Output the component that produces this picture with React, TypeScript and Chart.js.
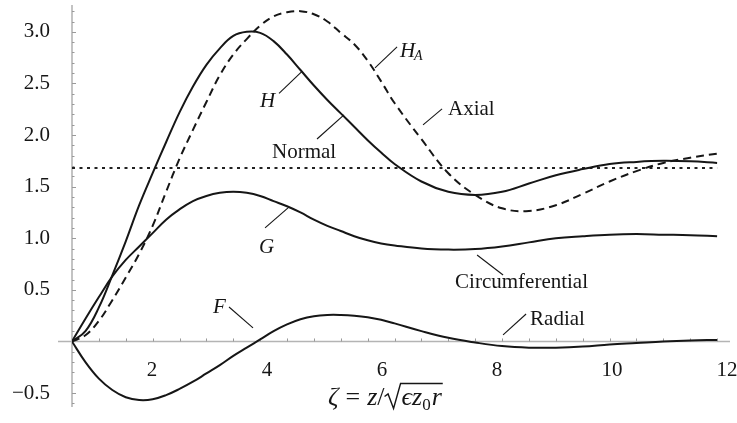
import React, { useEffect, useRef } from "react";
import { Chart, registerables } from "chart.js";

Chart.register(...registerables);

// ---- data ----
const ZETA = [0, 0.25, 0.5, 0.75, 1, 1.25, 1.5, 1.75, 2, 2.25, 2.5, 2.75, 3, 3.25, 3.5, 3.75, 4, 4.25, 4.5, 4.75, 5, 5.25, 5.5, 5.75, 6, 6.5, 7, 7.5, 8, 8.5, 9, 9.5, 10, 10.5, 11, 11.5, 12];
const H_NORMAL = [0, 0.1, 0.33, 0.64, 0.97, 1.32, 1.63, 1.93, 2.22, 2.47, 2.68, 2.84, 2.96, 3.0, 2.99, 2.91, 2.78, 2.63, 2.48, 2.34, 2.21, 2.08, 1.95, 1.83, 1.72, 1.55, 1.45, 1.42, 1.45, 1.53, 1.61, 1.67, 1.72, 1.74, 1.75, 1.745, 1.73];
const H_AXIAL = [0, 0.06, 0.2, 0.4, 0.62, 0.85, 1.12, 1.45, 1.77, 2.05, 2.32, 2.58, 2.78, 2.93, 3.06, 3.15, 3.19, 3.2, 3.17, 3.1, 2.99, 2.88, 2.72, 2.52, 2.31, 1.96, 1.63, 1.42, 1.29, 1.265, 1.32, 1.43, 1.55, 1.65, 1.73, 1.78, 1.82];
const G_CIRC = [0, 0.22, 0.43, 0.63, 0.79, 0.92, 1.05, 1.18, 1.28, 1.36, 1.41, 1.44, 1.45, 1.44, 1.41, 1.36, 1.31, 1.25, 1.18, 1.12, 1.07, 1.02, 0.98, 0.95, 0.93, 0.9, 0.89, 0.895, 0.92, 0.96, 1.0, 1.02, 1.035, 1.04, 1.035, 1.03, 1.02];
const F_RADIAL = [0, -0.2, -0.36, -0.47, -0.54, -0.567, -0.56, -0.52, -0.46, -0.39, -0.31, -0.23, -0.14, -0.06, 0.02, 0.1, 0.165, 0.215, 0.245, 0.257, 0.257, 0.25, 0.235, 0.21, 0.175, 0.1, 0.035, -0.01, -0.045, -0.06, -0.06, -0.05, -0.03, -0.015, 0.0, 0.01, 0.015];
const LEVEL_VALUE = 1.68;
const LEVEL_RANGE = [0, 12];
const X_TICK_LABELS = [2, 4, 6, 8, 10, 12];
const Y_TICK_LABELS = [-0.5, 0.5, 1.0, 1.5, 2.0, 2.5, 3.0];

// ---- axis ranges ----
const X_MIN = 0;
const X_MAX = 12.24;
const XL_MIN = 0.61;
const XL_MAX = 12.05;
const Y_MIN = -0.635;
const Y_MAX = 3.26;
const X_MINOR_STEP = 0.5;
const Y_MINOR_STEP = 0.1;

// ---- callouts (data coordinates) ----
type Callout = { label: string; sub?: string; italic: boolean; text: [number, number]; line: [number, number, number, number] };
const CALLOUTS: Callout[] = [
  { label: "H", sub: "A", italic: true, text: [6.1, 2.757], line: [5.637, 2.65, 6.047, 2.854] },
  { label: "Axial", italic: false, text: [6.995, 2.195], line: [6.53, 2.098, 6.884, 2.253] },
  { label: "H", italic: true, text: [3.498, 2.272], line: [3.851, 2.403, 4.279, 2.616] },
  { label: "Normal", italic: false, text: [3.721, 1.778], line: [4.558, 1.962, 5.06, 2.195] },
  { label: "G", italic: true, text: [3.479, 0.858], line: [3.591, 1.1, 4.019, 1.294] },
  { label: "Circumferential", italic: false, text: [7.126, 0.518], line: [7.535, 0.838, 8.019, 0.644] },
  { label: "Radial", italic: false, text: [8.521, 0.16], line: [8.019, 0.063, 8.447, 0.266] },
  { label: "F", italic: true, text: [2.623, 0.276], line: [2.921, 0.334, 3.367, 0.131] },
];

const SERIF = "'Liberation Serif', 'DejaVu Serif', serif";
const INK = "#161616";
const AXIS = "#b4b4b4";

const toPoints = (ys: number[]) => ZETA.map((x, i) => ({ x, y: ys[i] }));

const axesPlugin = {
  id: "mathAxes",
  beforeDatasetsDraw(chart: any) {
    const { ctx, chartArea, scales } = chart;
    const xs = scales.x;
    const ys = scales.y;
    const x0 = xs.getPixelForValue(0);
    const y0 = ys.getPixelForValue(0);
    ctx.save();
    ctx.strokeStyle = AXIS;
    ctx.lineWidth = 1.6;
    ctx.beginPath();
    ctx.moveTo(x0, chartArea.top);
    ctx.lineTo(x0, chartArea.bottom);
    ctx.stroke();
    ctx.beginPath();
    ctx.moveTo(x0 - 14, y0);
    ctx.lineTo(chartArea.right, y0);
    ctx.stroke();
    ctx.lineWidth = 1;
    ctx.strokeStyle = "#9a9a9a";
    ctx.beginPath();
    for (let k = 1; k * X_MINOR_STEP <= X_MAX; k++) {
      const px = Math.round(xs.getPixelForValue(k * X_MINOR_STEP)) + 0.5;
      ctx.moveTo(px, y0);
      ctx.lineTo(px, y0 - 3);
    }
    for (let k = Math.ceil(Y_MIN / Y_MINOR_STEP); k * Y_MINOR_STEP <= Y_MAX; k++) {
      if (k === 0) continue;
      const py = Math.round(ys.getPixelForValue(k * Y_MINOR_STEP)) + 0.5;
      const len = k % 5 === 0 ? 4 : 2.5;
      ctx.moveTo(x0, py);
      ctx.lineTo(x0 + len, py);
    }
    ctx.stroke();
    ctx.restore();
  },
};

const calloutPlugin = {
  id: "callouts",
  afterDatasetsDraw(chart: any) {
    const { ctx, scales } = chart;
    const xs = scales.x;
    const ys = scales.y;
    ctx.save();
    ctx.strokeStyle = INK;
    ctx.fillStyle = INK;
    ctx.lineWidth = 1.1;
    ctx.textAlign = "left";
    ctx.textBaseline = "alphabetic";
    for (const c of CALLOUTS) {
      ctx.beginPath();
      ctx.moveTo(xs.getPixelForValue(c.line[0]), ys.getPixelForValue(c.line[1]));
      ctx.lineTo(xs.getPixelForValue(c.line[2]), ys.getPixelForValue(c.line[3]));
      ctx.stroke();
      const tx = xs.getPixelForValue(c.text[0]);
      const ty = ys.getPixelForValue(c.text[1]);
      ctx.font = `${c.italic ? "italic " : ""}21px ${SERIF}`;
      ctx.fillText(c.label, tx, ty);
      if (c.sub) {
        const w = ctx.measureText(c.label).width;
        ctx.font = `italic 14px ${SERIF}`;
        ctx.fillText(c.sub, tx + w - 1, ty + 3);
      }
    }
    ctx.restore();
  },
};

const titlePlugin = {
  id: "zetaTitle",
  afterDraw(chart: any) {
    const { ctx, scales } = chart;
    const cx = scales.xLab.getPixelForValue(6.05);
    const base = scales.y.getPixelForValue(0) + 64;
    const size = 26;
    const it = `italic ${size}px ${SERIF}`;
    const rm = `${size}px ${SERIF}`;
    const sb = `17px ${SERIF}`;
    type Part = { t?: string; f?: string; dy?: number; sqrt?: boolean; gap?: number };
    const parts: Part[] = [
      { t: "\u03B6", f: it },
      { gap: 7 },
      { t: "=", f: rm },
      { gap: 7 },
      { t: "z", f: it },
      { t: "/", f: rm },
      { sqrt: true, gap: 17 },
      { t: "\u03F5", f: it },
      { t: "z", f: it },
      { t: "0", f: sb, dy: 5 },
      { gap: 1 },
      { t: "r", f: it },
    ];
    ctx.save();
    let total = 0;
    const widths = parts.map((p) => {
      if (p.t) {
        ctx.font = p.f;
        return ctx.measureText(p.t).width;
      }
      return p.gap || 0;
    });
    widths.forEach((w) => (total += w));
    let x = cx - total / 2;
    ctx.fillStyle = INK;
    ctx.strokeStyle = INK;
    ctx.textBaseline = "alphabetic";
    ctx.textAlign = "left";
    let sqrtX = 0;
    parts.forEach((p, i) => {
      if (p.sqrt) sqrtX = x;
      if (p.t) {
        ctx.font = p.f;
        ctx.fillText(p.t, x, base + (p.dy || 0));
      }
      x += widths[i];
    });
    ctx.lineWidth = 1.4;
    ctx.beginPath();
    ctx.moveTo(sqrtX, base - 9);
    ctx.lineTo(sqrtX + 3.5, base - 11.5);
    ctx.lineTo(sqrtX + 9, base + 3);
    ctx.lineTo(sqrtX + 16, base - 22);
    ctx.lineTo(x + 1, base - 22);
    ctx.stroke();
    ctx.restore();
  },
};

export default function App() {
  const ref = useRef<HTMLCanvasElement | null>(null);

  useEffect(() => {
    if (!ref.current) return;
    const line = (data: any, extra: any = {}) => ({
      data,
      xAxisID: "x",
      yAxisID: "y",
      borderColor: INK,
      borderWidth: 2,
      pointRadius: 0,
      fill: false,
      tension: 0.4,
      ...extra,
    });
    const chart = new Chart(ref.current, {
      type: "line",
      data: {
        datasets: [
          line(toPoints(H_NORMAL), { label: "Normal (H)" }),
          line(toPoints(H_AXIAL), { label: "Axial (H_A)", borderDash: [8, 5] }),
          line(toPoints(G_CIRC), { label: "Circumferential (G)" }),
          line(toPoints(F_RADIAL), { label: "Radial (F)" }),
          line(LEVEL_RANGE.map((x) => ({ x, y: LEVEL_VALUE })), { label: "level", borderDash: [3, 4.5], borderWidth: 2, borderColor: "#222", tension: 0 }),
        ],
      },
      options: {
        animation: false,
        responsive: false,
        events: [],
        layout: { padding: { left: 0, right: 7, top: 5, bottom: 16 } },
        plugins: { legend: { display: false }, tooltip: { enabled: false }, title: { display: false } },
        scales: {
          x: { type: "linear", display: false, min: X_MIN, max: X_MAX },
          xLab: {
            type: "linear",
            position: { y: 0 },
            min: XL_MIN,
            max: XL_MAX,
            afterBuildTicks: (s: any) => {
              s.ticks = X_TICK_LABELS.map((v) => ({ value: v }));
            },
            afterFit: (s: any) => {
              s.paddingLeft = 0;
              s.paddingRight = 0;
            },
            grid: { display: false, drawTicks: false },
            border: { display: false },
            ticks: {
              autoSkip: false,
              maxRotation: 0,
              padding: 16,
              color: INK,
              font: { family: SERIF, size: 21 },
              callback: (v: any) => String(v),
            },
          },
          y: {
            type: "linear",
            position: "left",
            min: Y_MIN,
            max: Y_MAX,
            afterBuildTicks: (s: any) => {
              s.ticks = Y_TICK_LABELS.map((v) => ({ value: v }));
            },
            afterFit: (s: any) => {
              s.width = 72;
              s.paddingTop = 0;
              s.paddingBottom = 0;
            },
            grid: { display: false, drawTicks: false },
            border: { display: false },
            ticks: {
              autoSkip: false,
              padding: 22,
              color: INK,
              font: { family: SERIF, size: 21 },
              callback: (v: any) => (v < 0 ? "\u2212" + Math.abs(v).toFixed(1) : Number(v).toFixed(1)),
            },
          },
        },
      } as any,
      plugins: [axesPlugin, calloutPlugin, titlePlugin],
    });
    return () => chart.destroy();
  }, []);

  return (
    <div style={{ position: "fixed", left: 0, top: 0, width: 737, height: 423, background: "#fff" }}>
      <canvas ref={ref} width={737} height={423} style={{ display: "block" }} />
    </div>
  );
}
